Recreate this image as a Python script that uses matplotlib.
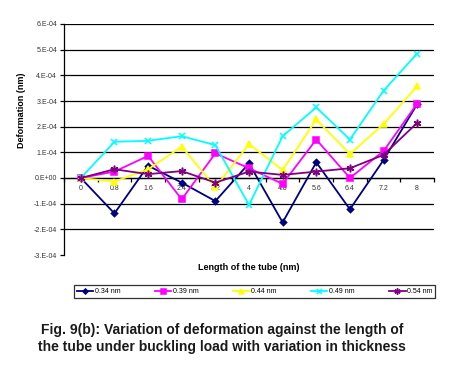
import matplotlib
matplotlib.use('Agg')
import matplotlib.pyplot as plt
import numpy as np

# Data
lengths = ['0', '0.8', '1.6', '2.4', '3.2', '4', '4.8', '5.6', '6.4', '7.2', '8']
d034 = [0, -1.38e-4, 0.48e-4, -0.18e-4, -0.90e-4, 0.57e-4, -1.73e-4, 0.61e-4, -1.22e-4, 0.70e-4, 2.88e-4]
d039 = [0, 0.25e-4, 0.86e-4, -0.83e-4, 0.96e-4, 0.38e-4, -0.23e-4, 1.50e-4, 0.0, 1.05e-4, 2.90e-4]
d044 = [0, -0.14e-4, 0.34e-4, 1.22e-4, -0.36e-4, 1.32e-4, 0.31e-4, 2.28e-4, 0.93e-4, 2.10e-4, 3.58e-4]
d049 = [0, 1.41e-4, 1.45e-4, 1.63e-4, 1.28e-4, -1.05e-4, 1.63e-4, 2.75e-4, 1.50e-4, 3.40e-4, 4.85e-4]
d054 = [0, 0.34e-4, 0.15e-4, 0.27e-4, -0.18e-4, 0.25e-4, 0.12e-4, 0.25e-4, 0.38e-4, 0.90e-4, 2.15e-4]
series_names = ['0.34 nm', '0.39 nm', '0.44 nm', '0.49 nm', '0.54 nm']
yticks = [-3e-4, -2e-4, -1e-4, 0, 1e-4, 2e-4, 3e-4, 4e-4, 5e-4, 6e-4]
ytick_labels = ['-3.E-04', '-2.E-04', '-1.E-04', '0.E+00', '1.E-04', '2.E-04',
                '3.E-04', '4.E-04', '5.E-04', '6.E-04']

plt.rcParams['font.family'] = ['Liberation Sans', 'DejaVu Sans']

W, H = 462, 367
fig = plt.figure(figsize=(W / 100, H / 100), dpi=100)
ax = fig.add_axes([64 / W, (H - 255) / H, 370 / W, (255 - 24) / H])

x = np.arange(len(lengths))
styles = [
    ('#000080', 'D', 3.2),
    ('#FF00FF', 's', 4.5),
    ('#FFFF00', '^', 4.5),
    ('#00FFFF', 'x', 4.5),
    ('#800080', (6, 2, 0), 5.5),
]
for vals, name, (c, m, ms) in zip([d034, d039, d044, d049, d054], series_names, styles):
    ax.plot(x, vals, color=c, marker=m, markersize=ms, lw=1.3, mew=1.1,
            markerfacecolor=c, markeredgecolor=c, label=name, zorder=3)

ax.set_xlim(-0.5, len(lengths) - 0.5)
ax.set_ylim(-3e-4, 6e-4)
ax.set_yticks(yticks)
ax.set_yticklabels(ytick_labels, fontsize=5, color='#333333')
for yv in yticks[1:]:
    ax.axhline(yv, color='black', lw=0.9, zorder=1)

ax.spines['top'].set_visible(False)
ax.spines['right'].set_visible(False)
ax.spines['left'].set_linewidth(0.9)
ax.spines['bottom'].set_position(('data', 0))
ax.spines['bottom'].set_linewidth(0.9)
ax.set_xticks(x)
ax.set_xticklabels(lengths, fontsize=5, color='#333333')
ax.set_xticks(np.arange(-0.5, len(lengths)), minor=True)
ax.tick_params(axis='x', which='major', length=0, pad=5)
ax.tick_params(axis='x', which='minor', length=3, width=0.9, direction='out')
ax.tick_params(axis='y', length=3, width=0.9, pad=2)

fig.text(22 / W, 1 - 110 / H, 'Deformation (nm)', rotation=90, ha='center', va='center',
         fontsize=6.5, fontweight='bold')
fig.text(249 / W, 1 - 268 / H, 'Length of the tube (nm)', ha='center', va='center',
         fontsize=6.5, fontweight='bold')

leg = fig.legend(loc='center', bbox_to_anchor=(254.5 / W, 1 - 291.5 / H), ncol=5,
                 fontsize=5, frameon=True, fancybox=False, edgecolor='black',
                 handlelength=2.4, handletextpad=0.2, columnspacing=4.95,
                 borderpad=0.4, borderaxespad=0, markerscale=0.8)
leg.get_frame().set_linewidth(0.9)

fig.text(222 / W, 1 - 330 / H, 'Fig. 9(b): Variation of deformation against the length of',
         ha='center', va='center', fontsize=10, fontweight='bold', color='#1a1a1a')
fig.text(222 / W, 1 - 347 / H, 'the tube under buckling load with variation in thickness',
         ha='center', va='center', fontsize=10, fontweight='bold', color='#1a1a1a')

fig.savefig('out.png', dpi=100)
